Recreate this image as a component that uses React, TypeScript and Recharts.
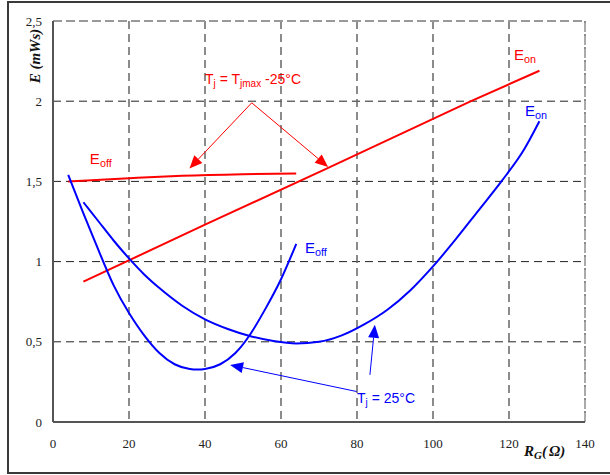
import React from 'react';
import { LineChart, Line, XAxis, YAxis, CartesianGrid, ReferenceLine, ReferenceDot } from 'recharts';

const rgTicks = [0, 20, 40, 60, 80, 100, 120, 140];
const eTicks = [0, 0.5, 1, 1.5, 2, 2.5];

// Tj = Tjmax - 25°C
const hotOffRg = [4, 20, 34, 50, 64];
const hotOffE = [1.5, 1.52, 1.535, 1.545, 1.55];
const hotOnRg = [8, 40, 72, 110, 128];
const hotOnE = [0.875, 1.23, 1.58, 2.0, 2.19];

// Tj = 25°C
const coldOffRg = [4, 8, 12, 16, 20, 24, 28, 32, 36, 40, 44, 48, 52, 56, 60, 64];
const coldOffE = [1.54, 1.3, 1.07, 0.85, 0.68, 0.54, 0.43, 0.36, 0.33, 0.33, 0.36, 0.43, 0.55, 0.71, 0.89, 1.11];
const coldOnRg = [8, 12, 16, 20, 24, 28, 34, 40, 46, 52, 58, 64, 70, 76, 82, 88, 94, 100, 106, 112, 118, 124, 128];
const coldOnE = [1.37, 1.25, 1.13, 1.02, 0.92, 0.835, 0.725, 0.64, 0.58, 0.535, 0.505, 0.49, 0.5, 0.54, 0.61, 0.7, 0.82, 0.97, 1.14, 1.32, 1.5, 1.7, 1.875];

const toPoints = (rg: number[], e: number[]) => rg.map((x, i) => ({ rg: x, e: e[i] }));

const RED = '#ff0000';
const BLUE = '#0000ff';
const SANS = '"Liberation Sans", Arial, sans-serif';
const SERIF = '"Liberation Serif", "Times New Roman", serif';

// arrow callouts, [fromRg, fromE, toRg, toE]
const hotArrows = [
  [52.3, 1.99, 35.9, 1.58],
  [52.3, 1.99, 72.4, 1.59],
];
const coldArrows = [
  [79.9, 0.19, 46.6, 0.356],
  [83.4, 0.294, 84.7, 0.606],
];

const arrowShape = (color: string) => (p: any) => {
  const { x1, y1, x2, y2 } = p;
  const a = Math.atan2(y2 - y1, x2 - x1);
  const len = 13;
  const half = 5.5;
  const bx = x2 - len * Math.cos(a);
  const by = y2 - len * Math.sin(a);
  const pts = `${x2},${y2} ${bx + half * Math.sin(a)},${by - half * Math.cos(a)} ${bx - half * Math.sin(a)},${by + half * Math.cos(a)}`;
  return (
    <g>
      <line x1={x1} y1={y1} x2={bx} y2={by} stroke={color} strokeWidth={1} />
      <polygon points={pts} fill={color} />
    </g>
  );
};

const seriesLabel = (main: string, sub: string, color: string, size: number) => (p: any) => (
  <text x={p.cx} y={p.cy} fill={color} fontFamily={SANS} fontSize={size}>
    {main}
    <tspan fontSize={size * 0.72} dy={3}>{sub}</tspan>
  </text>
);

const hotTempLabel = (p: any) => (
  <text x={p.cx} y={p.cy} fill={RED} fontFamily={SANS} fontSize={14}>
    T<tspan fontSize={10} dy={3}>j</tspan>
    <tspan dy={-3}> = T</tspan>
    <tspan fontSize={10} dy={3}>jmax</tspan>
    <tspan dy={-3}> -25°C</tspan>
  </text>
);

const coldTempLabel = (p: any) => (
  <text x={p.cx} y={p.cy} fill={BLUE} fontFamily={SANS} fontSize={14}>
    T<tspan fontSize={10} dy={3}>j</tspan>
    <tspan dy={-3}> = 25°C</tspan>
  </text>
);

const commaFormat = (v: number) => String(v).replace('.', ',');

const XTick = (p: any) => (
  <text x={p.x} y={p.y} dy="0.71em" textAnchor="middle" fontFamily={SERIF} fontSize={13} fill="#222">
    {p.payload.value}
  </text>
);

const YTick = (p: any) => (
  <text x={p.x} y={p.y} dy="0.355em" textAnchor="end" fontFamily={SERIF} fontSize={13} fill="#222">
    {commaFormat(p.payload.value)}
  </text>
);

const YTitle = ({ viewBox }: any) => {
  const cx = viewBox.x + 27;
  const cy = viewBox.y + 35;
  return (
    <text x={cx} y={cy} transform={`rotate(-90 ${cx} ${cy})`} textAnchor="middle" dominantBaseline="central"
      fontFamily={SERIF} fontWeight="bold" fontStyle="italic" fontSize={15} fill="#111">
      E (mWs)
    </text>
  );
};

const XTitle = ({ viewBox }: any) => (
  <text x={viewBox.x + viewBox.width - 61} y={viewBox.y + 34} fontFamily={SERIF} fontWeight="bold"
    fontStyle="italic" fontSize={15} fill="#111">
    R<tspan fontSize={11} dy={3}>G</tspan>
    <tspan dy={-3}>(</tspan>
    <tspan dx={2}>Ω)</tspan>
  </text>
);

export default function App() {
  return (
    <div style={{ position: 'absolute', left: 0, top: 0, width: 610, height: 475, overflow: 'hidden', background: '#fff' }}>
      <div style={{ position: 'absolute', left: 7, top: 1, width: 640, height: 469, border: '2px solid #3a3a3a', borderRight: 'none' }} />
      <div style={{ position: 'absolute', left: 0, top: 0 }}>
        <LineChart width={610} height={475} margin={{ top: 21, right: 25, bottom: 23, left: 8 }}>
          <CartesianGrid vertical={false} stroke="#222" strokeDasharray="8 5" />
          <CartesianGrid horizontal={false} stroke="#666" strokeWidth={1.5} strokeDasharray="8 5" />
          <ReferenceLine y={2.5} stroke="#999" strokeWidth={2} strokeDasharray="9 4" />
          <ReferenceLine x={140} stroke="#aaa" strokeWidth={2} strokeDasharray="9 4" />
          <XAxis dataKey="rg" type="number" domain={[0, 140]} ticks={rgTicks} tickLine={false} tickSize={0}
            tickMargin={17} height={30} axisLine={{ stroke: '#555', strokeWidth: 2 }}
            tick={XTick} label={<XTitle />} />
          <YAxis type="number" domain={[0, 2.5]} ticks={eTicks} tickLine={false} tickSize={0} tickMargin={11}
            width={45} axisLine={{ stroke: '#555', strokeWidth: 2 }}
            tick={YTick} label={<YTitle />} />
          <Line data={toPoints(hotOffRg, hotOffE)} dataKey="e" type="monotone" stroke={RED} strokeWidth={2} dot={false} isAnimationActive={false} />
          <Line data={toPoints(hotOnRg, hotOnE)} dataKey="e" type="linear" stroke={RED} strokeWidth={2} dot={false} isAnimationActive={false} />
          <Line data={toPoints(coldOffRg, coldOffE)} dataKey="e" type="natural" stroke={BLUE} strokeWidth={2} dot={false} isAnimationActive={false} />
          <Line data={toPoints(coldOnRg, coldOnE)} dataKey="e" type="monotone" stroke={BLUE} strokeWidth={2} dot={false} isAnimationActive={false} />
          {hotArrows.map((a, i) => (
            <ReferenceLine key={`h${i}`} segment={[{ x: a[0], y: a[1] }, { x: a[2], y: a[3] }]} shape={arrowShape(RED)} />
          ))}
          {coldArrows.map((a, i) => (
            <ReferenceLine key={`c${i}`} segment={[{ x: a[0], y: a[1] }, { x: a[2], y: a[3] }]} shape={arrowShape(BLUE)} />
          ))}
          <ReferenceDot x={9.7} y={1.61} r={0} shape={seriesLabel('E', 'off', RED, 15)} />
          <ReferenceDot x={121.3} y={2.256} r={0} shape={seriesLabel('E', 'on', RED, 15)} />
          <ReferenceDot x={124.2} y={1.91} r={0} shape={seriesLabel('E', 'on', BLUE, 15)} />
          <ReferenceDot x={66.3} y={1.053} r={0} shape={seriesLabel('E', 'off', BLUE, 15)} />
          <ReferenceDot x={40} y={2.106} r={0} shape={hotTempLabel} />
          <ReferenceDot x={80} y={0.119} r={0} shape={coldTempLabel} />
        </LineChart>
      </div>
    </div>
  );
}
